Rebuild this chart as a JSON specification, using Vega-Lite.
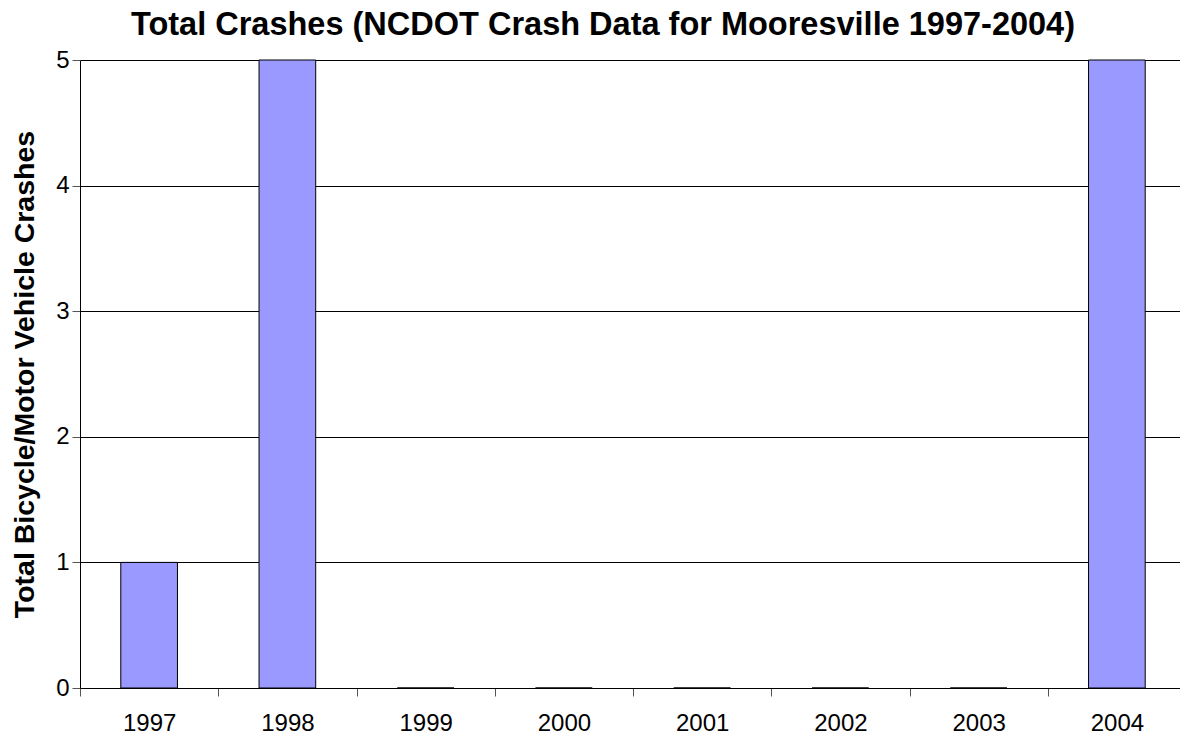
{
  "$schema": "https://vega.github.io/schema/vega-lite/v6.json",
  "autosize": "none",
  "width": 1106,
  "height": 628,
  "padding": {"left": 80, "top": 60, "right": 0, "bottom": 49},
  "background": "white",
  "title": {
    "text": "Total Crashes (NCDOT Crash Data for Mooresville 1997-2004)",
    "font": "Liberation Sans",
    "fontSize": 32.5,
    "fontWeight": "bold",
    "color": "black",
    "anchor": "middle",
    "dx": -30,
    "offset": 7
  },
  "data": {
    "values": [
      {"year": "1997", "crashes": 1},
      {"year": "1998", "crashes": 5},
      {"year": "1999", "crashes": 0},
      {"year": "2000", "crashes": 0},
      {"year": "2001", "crashes": 0},
      {"year": "2002", "crashes": 0},
      {"year": "2003", "crashes": 0},
      {"year": "2004", "crashes": 5}
    ]
  },
  "config": {
    "view": {"stroke": null},
    "axis": {
      "labelFont": "Liberation Sans",
      "titleFont": "Liberation Sans",
      "labelColor": "black",
      "titleColor": "black",
      "domainColor": "black",
      "tickColor": "#555555",
      "gridColor": "black",
      "gridOpacity": 1
    }
  },
  "mark": {"type": "bar", "fill": "#9999FF", "stroke": "black", "strokeWidth": 1},
  "encoding": {
    "x": {
      "field": "year",
      "type": "nominal",
      "sort": null,
      "scale": {"paddingInner": 0.59, "paddingOuter": 0.295},
      "axis": {
        "title": null,
        "labelAngle": 0,
        "labelFontSize": 24,
        "tickOffset": -69,
        "labelOffset": 69,
        "tickSize": 8,
        "labelPadding": 15,
        "labelOverlap": false,
        "domainWidth": 1,
        "grid": false
      }
    },
    "y": {
      "field": "crashes",
      "type": "quantitative",
      "scale": {"domain": [0, 5], "nice": false},
      "axis": {
        "title": "Total Bicycle/Motor Vehicle Crashes",
        "titleFontSize": 28.5,
        "titleFontWeight": "bold",
        "titlePadding": 16,
        "labelFontSize": 24,
        "values": [0, 1, 2, 3, 4, 5],
        "labelOverlap": false,
        "tickSize": 8,
        "labelPadding": 3,
        "grid": true,
        "gridWidth": 1
      }
    }
  }
}
